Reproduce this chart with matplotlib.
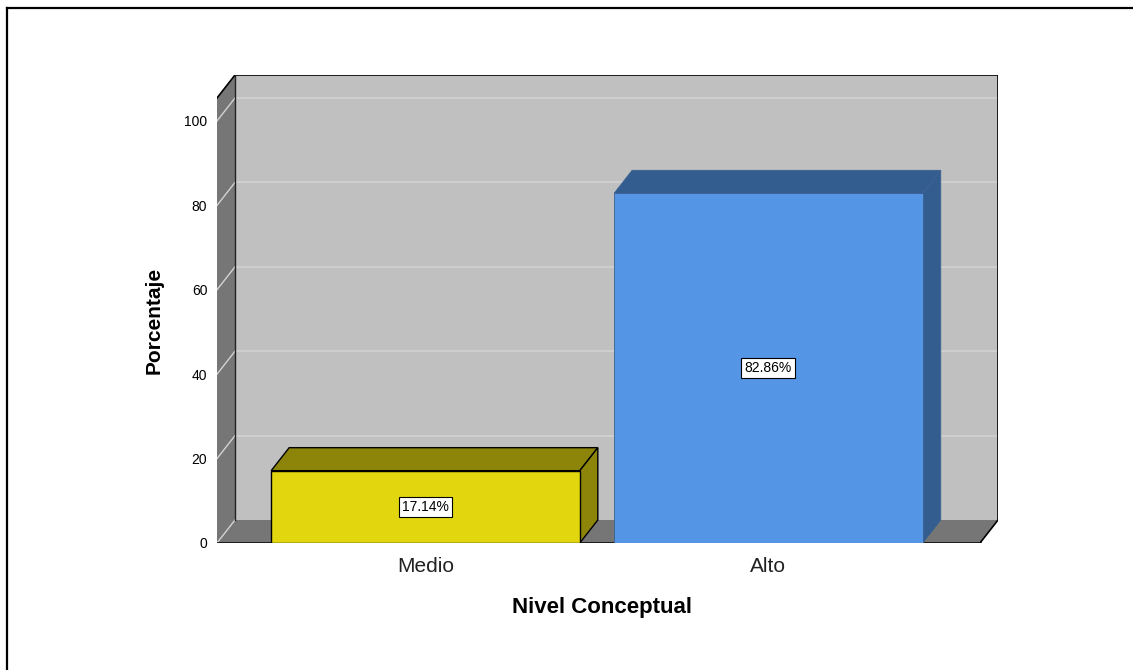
import matplotlib
matplotlib.use('Agg')
import matplotlib.pyplot as plt
from matplotlib.patches import Polygon, Rectangle
from matplotlib.lines import Line2D

categories = ['Medio', 'Alto']
percentages = [17.14, 82.86]
value_labels = ['17.14%', '82.86%']
yticks = [0, 20, 40, 60, 80, 100]
ytick_labels = ['0', '20', '40', '60', '80', '100']

plt.rcParams['font.family'] = ['Liberation Sans', 'DejaVu Sans']

W, H = 1133, 670
fig = plt.figure(figsize=(W / 100, H / 100), dpi=100)
ax = fig.add_axes([217 / W, (H - 543) / H, 781 / W, 468 / H])

# 3D geometry (data units)
X0, X1 = -0.608, 1.617
DX, DY = 0.0525, 5.45
YTOP = 105.45
BW = 0.9

ax.set_xlim(X0, X1 + DX)
ax.set_ylim(0, YTOP + DY)
ax.set_facecolor('none')
for s in ax.spines.values():
    s.set_visible(False)

WALL = '#c0c0c0'
DARK = '#767676'
GRID = '#d3d3d3'

# back wall
ax.add_patch(Polygon([(X0 + DX, DY), (X1 + DX, DY), (X1 + DX, YTOP + DY), (X0 + DX, YTOP + DY)],
                     closed=True, fc=WALL, ec='none', zorder=1))
for v in yticks[1:]:
    ax.plot([X0 + DX, X1 + DX], [v + DY, v + DY], color=GRID, lw=1.1, zorder=2)

# left wall
ax.add_patch(Polygon([(X0, 0), (X0 + DX, DY), (X0 + DX, YTOP + DY), (X0, YTOP)],
                     closed=True, fc=DARK, ec='none', zorder=3))
# floor
ax.add_patch(Polygon([(X0, 0), (X1, 0), (X1 + DX, DY), (X0 + DX, DY)],
                     closed=True, fc=DARK, ec='none', zorder=3))
for v in yticks:
    ax.plot([X0, X0 + DX], [v, v + DY], color=GRID, lw=1.0, zorder=4)

# outlines
K = dict(color='black', lw=1.2, zorder=5, solid_capstyle='projecting')
ax.plot([X0, X0 + DX], [YTOP, YTOP + DY], **K)
ax.plot([X0 + DX, X1 + DX], [YTOP + DY, YTOP + DY], **K)
ax.plot([X1 + DX, X1 + DX], [DY, YTOP + DY], **K)
ax.plot([X0 + DX, X0 + DX], [DY, YTOP + DY], color='#222222', lw=1.0, zorder=5)
ax.plot([X1, X1 + DX], [0, DY], **K)
ax.plot([X0, X1], [0, 0], color='black', lw=1.8, zorder=5)

front_colors = ['#e2d60f', '#5595e5']
dark_colors = ['#8c850a', '#345d8f']
edge_colors = ['black', '#3a6190']

for i, (v, lab) in enumerate(zip(percentages, value_labels)):
    xl, xr = i - BW / 2, i + BW / 2
    ec = edge_colors[i]
    lw = 1.0 if i == 0 else 0.6
    ax.add_patch(Polygon([(xl, v), (xr, v), (xr + DX, v + DY), (xl + DX, v + DY)],
                         closed=True, fc=dark_colors[i], ec=ec, lw=lw, zorder=6))
    ax.add_patch(Polygon([(xr, 0), (xr + DX, DY), (xr + DX, v + DY), (xr, v)],
                         closed=True, fc=dark_colors[i], ec=ec, lw=lw, zorder=6))
    ax.add_patch(Rectangle((xl, 0), BW, v, fc=front_colors[i], ec=ec, lw=lw, zorder=7))
    ax.text(i, v / 2, lab, ha='center', va='center', fontsize=10, zorder=8,
            bbox=dict(boxstyle='square,pad=0.24', fc='white', ec='black', lw=0.8))

ax.set_yticks(yticks, ytick_labels)
ax.tick_params(axis='y', length=0, pad=7, labelsize=10)
ax.set_xticks([])

for i, c in enumerate(categories):
    ax.text(i, (543 - 572) / 468, c, transform=ax.get_xaxis_transform(),
            ha='center', va='baseline', fontsize=15, color='#222222')

fig.text(602 / W, 1 - 613 / H, 'Nivel Conceptual', ha='center', va='baseline',
         fontweight='bold', fontsize=16)
fig.text(154 / W, 1 - 320 / H, 'Porcentaje', ha='center', va='center', rotation=90,
         fontweight='bold', fontsize=15)

# outer frame
fig.add_artist(Line2D([7 / W, 7 / W], [0, 1 - 8 / H], color='black', lw=1.6))
fig.add_artist(Line2D([7 / W, 1], [1 - 8 / H, 1 - 8 / H], color='black', lw=1.6))

fig.savefig('out.png', dpi=100)
